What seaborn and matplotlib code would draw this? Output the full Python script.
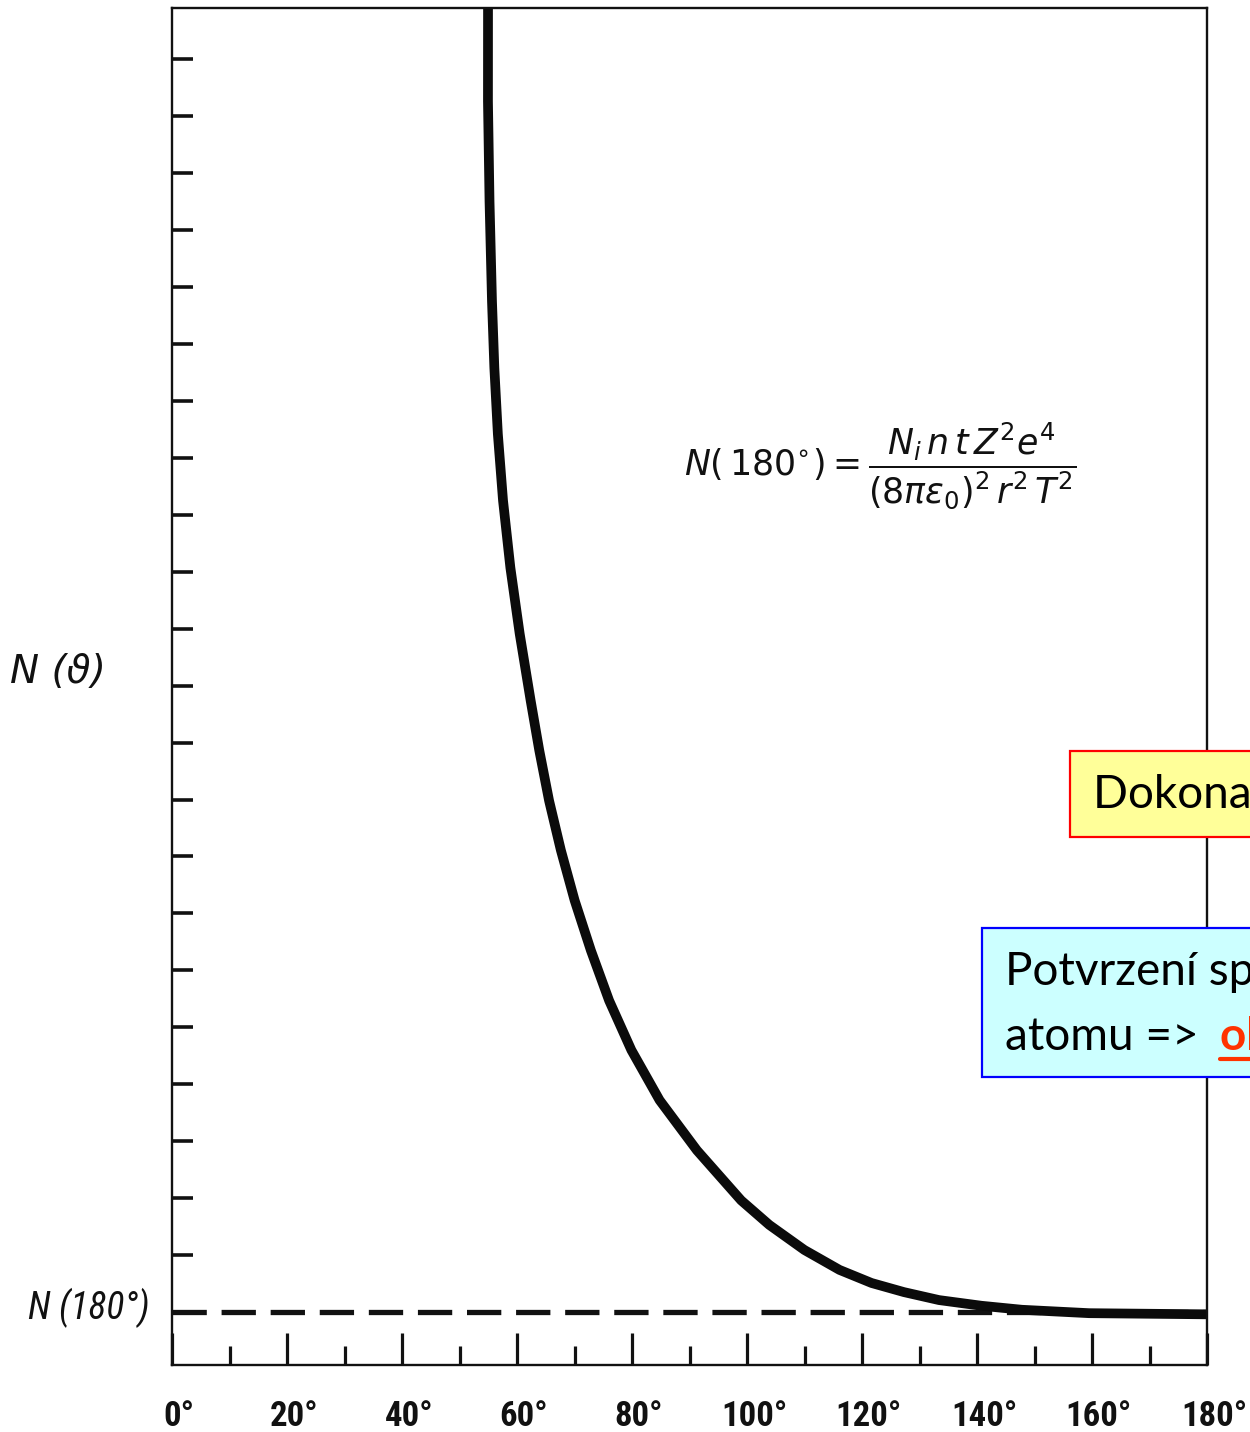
import matplotlib
matplotlib.use("Agg")
import matplotlib.pyplot as plt
import matplotlib.transforms as mtransforms
from matplotlib.patches import Rectangle
from matplotlib.lines import Line2D
from matplotlib import font_manager
import seaborn as sns
import pandas as pd

# ---------------- data ----------------
theta_deg = [55.0, 54.96, 54.95, 55.22, 55.65, 56.06, 56.67, 57.57, 58.85,
             60.47, 62.37, 63.88, 65.58, 67.63, 70.02, 72.85, 76.02, 79.89,
             84.80, 91.29, 98.99, 103.88, 109.98, 116.09, 121.67, 127.3,
             133.4, 140.8, 147.8, 159.5, 180.0]
n_theta = [25.0, 23.88, 22.26, 20.51, 18.75, 17.58, 16.42, 15.25, 14.07,
           12.91, 11.74, 10.86, 9.98, 9.11, 8.23, 7.35, 6.47, 5.60, 4.72,
           3.84, 2.96, 2.53, 2.09, 1.74, 1.51, 1.35, 1.21, 1.11, 1.04, 0.98,
           0.96]
n_180_level = 1.0
x_major_ticks = [0, 20, 40, 60, 80, 100, 120, 140, 160, 180]
x_tick_labels = ["0°", "20°", "40°", "60°", "80°", "100°", "120°", "140°",
                 "160°", "180°"]
x_minor_ticks = [10, 30, 50, 70, 90, 110, 130, 150, 170]
y_ticks = list(range(2, 24))
y_limits = (0.07, 23.9)

formula_text = (r"$N(\,180^{\circ}) = \dfrac{N_{i}\,n\,t\,Z^{2}e^{4}}"
                r"{(8\pi\epsilon_{0})^{2}\,r^{2}\,T^{2}}$")
ylabel_text = "N (ϑ)"
n180_label = "N (180°)"
box1_text = "Dokonalá shoda s teorií"
box2_line1 = "Potvrzení správnosti modelu"
box2_line2 = "atomu => "
box2_red = "objev jádra"


def pick(*names):
    for n in names:
        try:
            font_manager.findfont(n, fallback_to_default=False)
            return n
        except Exception:
            continue
    return "DejaVu Sans"


sns.set_theme(style="white")
plt.rcParams['font.family'] = ['DejaVu Sans']
narrow = pick("Liberation Sans Narrow", "DejaVu Sans Condensed",
              "Roboto Condensed", "Roboto", "DejaVu Sans")
calib = pick("Lato", "Open Sans", "DejaVu Sans")

W, H = 1250, 1432
fig = plt.figure(figsize=(W / 100, H / 100), dpi=100)
fig.patch.set_facecolor("white")

L, R, T, B = 172, 1207, 8, 1365
ax = fig.add_axes([L / W, 1 - B / H, (R - L) / W, (B - T) / H])
ax.set_facecolor("white")

df = pd.DataFrame({"theta": theta_deg, "N": n_theta})
sns.lineplot(data=df, x="theta", y="N", ax=ax, color="#0b0b0b", linewidth=7,
             sort=False, estimator=None, solid_capstyle="round",
             solid_joinstyle="round")
ax.axhline(n_180_level, color="#111111", lw=3.8, dashes=(6.5, 2.8), zorder=1)

ax.set_xlim(0, 180)
ax.set_ylim(*y_limits)
ax.set_xticks(x_major_ticks)
ax.set_xticklabels(x_tick_labels, fontfamily=narrow, fontweight="bold")
ax.set_xticks(x_minor_ticks, minor=True)
ax.tick_params(axis="x", which="major", direction="in", length=23, width=2.3,
               pad=25, labelsize=25, color="#111111", labelcolor="#111111",
               bottom=True)
ax.tick_params(axis="x", which="minor", direction="in", length=14, width=2.3,
               color="#111111", bottom=True)
ax.set_yticks(y_ticks)
ax.set_yticklabels([])
ax.tick_params(axis="y", which="major", direction="in", length=15, width=2.6,
               color="#111111", left=True)
ax.set_xlabel("")
ax.set_ylabel("")
for s in ax.spines.values():
    s.set_visible(True)
    s.set_color("#111111")
    s.set_linewidth(1.7)

offset = mtransforms.ScaledTranslation(7 / 100, 0, fig.dpi_scale_trans)
for lbl in ax.get_xticklabels():
    lbl.set_transform(lbl.get_transform() + offset)

# axis texts
fig.text(10 / W, 1 - 672 / H, ylabel_text, style="italic", fontsize=28,
         ha="left", va="center", color="#111111")
trans = mtransforms.blended_transform_factory(fig.transFigure, ax.transData)
ax.text(150 / W, n_180_level + 0.07, n180_label, transform=trans,
        fontfamily=narrow, style="italic", fontsize=27, ha="right",
        va="center", color="#111111")

# formula
fig.text(880 / W, 1 - 466 / H, formula_text, fontsize=25, ha="center",
         va="center", color="#111111")

# yellow box
fig.add_artist(Rectangle((1070 / W, 1 - 837 / H), 400 / W, 86 / H,
                         transform=fig.transFigure, facecolor="#FFFF99",
                         edgecolor="#FF0000", linewidth=1.6, zorder=5))
fig.text(1093 / W, 1 - 795 / H, box1_text, fontfamily=calib, fontsize=33,
         ha="left", va="center", color="black", zorder=6)

# cyan box
fig.add_artist(Rectangle((982 / W, 1 - 1077 / H), 500 / W, 149 / H,
                         transform=fig.transFigure, facecolor="#CCFFFF",
                         edgecolor="#0000FF", linewidth=1.6, zorder=5))
fig.text(1005 / W, 1 - 972 / H, box2_line1, fontfamily=calib, fontsize=33,
         ha="left", va="center", color="black", zorder=6)
fig.text(1005 / W, 1 - 1037 / H, box2_line2, fontfamily=calib, fontsize=33,
         ha="left", va="center", color="black", zorder=6)
fig.text(1220 / W, 1 - 1037 / H, box2_red, fontfamily=calib, fontsize=33,
         fontweight="bold", ha="left", va="center", color="#FF3300", zorder=6)
fig.add_artist(Line2D([1220 / W, 1.1], [1 - 1059 / H, 1 - 1059 / H],
                      transform=fig.transFigure, color="#FF3300", lw=3,
                      zorder=6))

fig.savefig("out.png", dpi=100)
